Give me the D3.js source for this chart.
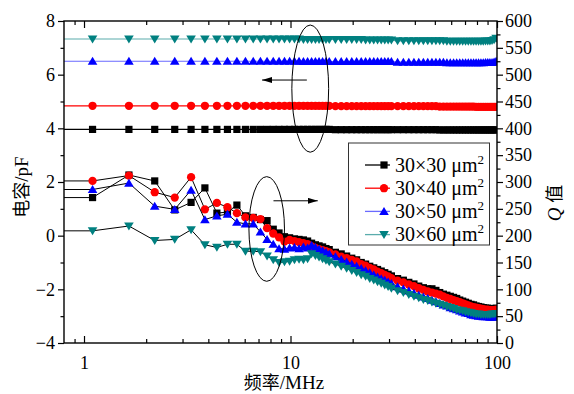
<!DOCTYPE html>
<html><head><meta charset="utf-8">
<script src="https://cdn.jsdelivr.net/npm/d3@7"></script>
<style>
body{margin:0;background:#fff}
svg{display:block}
text{font-family:"Liberation Serif","Times New Roman",serif;fill:#000}
.cjk{font-family:"Noto Sans CJK SC",sans-serif}
</style>
</head><body><svg id="c" width="574" height="394"></svg>
<script>
// ---------- DATA ----------
const freq = [0.55,1.1,1.65,2.2,2.75,3.3,3.85,4.4,4.95,5.5,6.05,6.6,7.15,7.7,8.25,8.8,9.35,9.9,10.45,11,
  11.55,12.1,12.65,13.2,13.75,14.3,14.85,15.4,16.5,17.6,18.7,19.8,20.9,22,23.1,24.2,25.3,26.4,27.5,28.6,29.7,30.8,
  33,35.2,37.4,39.6,41.8,44,46.2,48.4,50.6,52.8,55,57.2,59.4,61.6,63.8,66,68.2,70.4,72.6,74.8,77,79.2,81.4,83.6,85.8,88,90.2,92.4,94.6,96.8,99];
const seriesNames = ["30×30","30×40","30×50","30×60"];
// capacitance (pF), left axis
const capBlack = [3.96,3.96,3.96,3.96,3.96,3.96,3.96,3.96,3.96,3.96,3.96,3.96,3.96,3.96,3.96,3.96,3.96,3.96,3.96,3.96,
  3.96,3.96,3.96,3.96,3.96,3.96,3.96,3.96,3.95,3.95,3.95,3.95,3.95,3.95,3.95,3.95,3.95,3.95,3.95,3.95,3.95,3.95,
  3.95,3.95,3.95,3.95,3.95,3.95,3.95,3.95,3.95,3.94,3.94,3.94,3.94,3.94,3.94,3.94,3.94,3.94,3.94,3.94,3.94,3.94,3.94,3.94,3.94,3.94,3.94,3.94,3.94,3.94,3.94];
const capRed = [4.84,4.84,4.84,4.84,4.84,4.84,4.84,4.84,4.84,4.84,4.84,4.84,4.84,4.84,4.84,4.84,4.84,4.84,4.84,4.84,
  4.84,4.84,4.84,4.84,4.84,4.84,4.84,4.84,4.83,4.83,4.83,4.83,4.83,4.83,4.83,4.83,4.83,4.83,4.83,4.83,4.83,4.83,
  4.83,4.83,4.83,4.83,4.83,4.83,4.83,4.83,4.83,4.81,4.81,4.81,4.81,4.81,4.81,4.81,4.81,4.81,4.81,4.81,4.81,4.80,4.80,4.80,4.80,4.80,4.80,4.80,4.80,4.80,4.80];
const capBlue = [6.50,6.50,6.50,6.50,6.50,6.50,6.50,6.50,6.50,6.50,6.50,6.50,6.50,6.50,6.50,6.50,6.50,6.50,6.50,6.50,
  6.49,6.49,6.49,6.49,6.49,6.49,6.49,6.49,6.49,6.49,6.49,6.49,6.49,6.49,6.49,6.49,6.49,6.49,6.49,6.49,6.49,6.49,
  6.47,6.47,6.47,6.47,6.47,6.47,6.47,6.47,6.47,6.47,6.47,6.45,6.45,6.45,6.45,6.45,6.45,6.45,6.45,6.45,6.45,6.45,6.45,6.45,6.45,6.46,6.46,6.46,6.46,6.48,6.50];
const capTeal = [7.33,7.33,7.33,7.33,7.33,7.33,7.33,7.33,7.33,7.33,7.33,7.33,7.33,7.33,7.33,7.33,7.33,7.33,7.33,7.33,
  7.31,7.31,7.31,7.31,7.31,7.31,7.31,7.31,7.31,7.31,7.31,7.31,7.31,7.31,7.29,7.29,7.29,7.29,7.29,7.29,7.29,7.29,
  7.26,7.26,7.26,7.26,7.26,7.26,7.26,7.26,7.26,7.26,7.26,7.24,7.24,7.24,7.24,7.24,7.24,7.24,7.24,7.24,7.24,7.24,7.24,7.24,7.24,7.25,7.25,7.25,7.27,7.30,7.35];
// Q values, right axis
const qBlack = [271,271,313,302,248,262,289,242,244,257,237,234,230,228,212,205,198,196,194,193,
  192,190,186,183,181,179,176,174,169,166,162,158,155,150,147,143,140,137,134,131,128,125,
  120,117,113,110,106,103,101,101,98,94,91,89,87,85,83,80,78,76,74,72,71,69,68,67,66,65,65,64,64,64,65];
const qRed = [302,302,312,281,271,309,249,261,253,242,234,233,231,214,204,197,189,192,190,188,
  186,184,180,177,175,173,171,169,165,161,158,155,152,147,144,140,137,133,130,127,124,121,
  116,113,109,106,102,99,96,94,92,90,87,84,82,80,78,76,74,72,70,68,67,66,65,64,63,62,62,61,61,61,62];
const qBlue = [286,286,298,255,249,285,230,237,240,225,222,222,207,193,184,176,175,177,178,176,
  179,177,182,178,175,172,169,166,161,156,151,147,143,139,135,131,127,123,120,117,114,111,
  105,101,97,93,89,86,83,80,77,74,71,69,66,64,62,60,58,56,55,53,52,51,50,50,49,49,49,48,48,48,49];
const qTeal = [209,209,218,191,193,211,183,178,184,184,171,171,170,162,155,150,151,152,155,156,
  155,157,166,163,160,157,154,151,147,143,139,135,131,127,124,120,117,114,111,108,105,102,
  97,94,90,87,84,81,79,76,74,72,70,68,66,64,62,61,60,58,57,56,55,54,54,53,53,53,53,53,54,54,55];
const xMajor = [1,10,100];
const xMinor = [0.9,2,3,4,5,6,7,8,9,20,30,40,50,60,70,80,90];
const yLMajor = [-4,-2,0,2,4,6,8];
const yLMinor = [-3,-1,1,3,5,7];
const yRMajor = [0,50,100,150,200,250,300,350,400,450,500,550,600];
const yRMinor = [25,75,125,175,225,275,325,375,425,475,525,575];

// ---------- STYLE ----------
const SERIF = '"Liberation Serif","Times New Roman",serif';
const styles = [
  {fill:"#000000", line:"#000000", shape:"square"},
  {fill:"#ff0000", line:"#ff0000", shape:"circle"},
  {fill:"#0000ff", line:"#6a6aff", shape:"up"},
  {fill:"#008080", line:"#5aacac", shape:"down"}
];
const capData = [capBlack, capRed, capBlue, capTeal];
const qData = [qBlack, qRed, qBlue, qTeal];

const svg = d3.select("#c");
const L=64, R=497, T=21, B=343;
const x = d3.scaleLog().domain([0.8,100]).range([L,R]);
const yL = d3.scaleLinear().domain([-4,8]).range([B,T]);
const yR = d3.scaleLinear().domain([0,600]).range([B,T]);

function shapePath(s){
  if(s==="square") return "M-3.6,-3.6h7.2v7.2h-7.2z";
  if(s==="circle") return d3.symbol(d3.symbolCircle, 54)();
  if(s==="up") return "M0,-4.4L4.8,3.6L-4.8,3.6Z";
  return "M0,4.4L4.8,-3.6L-4.8,-3.6Z";
}

svg.append("defs").append("clipPath").attr("id","clip")
  .append("rect").attr("x",L).attr("y",T).attr("width",R-L).attr("height",B-T);
const plot = svg.append("g").attr("clip-path","url(#clip)");

styles.forEach((st,i)=>{
  const cap = freq.map((f,j)=>[f,capData[i][j]]);
  const q = freq.map((f,j)=>[f,qData[i][j]]);
  const g = plot.append("g");
  g.append("path").datum(cap)
    .attr("d", d3.line().x(d=>x(d[0])).y(d=>yL(d[1])))
    .attr("fill","none").attr("stroke",st.line).attr("stroke-width",1.2);
  g.selectAll(".cm").data(cap).join("path").attr("class","cm")
    .attr("d",shapePath(st.shape)).attr("fill",st.fill)
    .attr("transform",d=>`translate(${x(d[0])},${yL(d[1])})`);
  g.append("path").datum(q)
    .attr("d", d3.line().x(d=>x(d[0])).y(d=>yR(d[1])))
    .attr("fill","none").attr("stroke","#000").attr("stroke-width",1);
  g.selectAll(".qm").data(q).join("path").attr("class","qm")
    .attr("d",shapePath(st.shape)).attr("fill",st.fill)
    .attr("transform",d=>`translate(${x(d[0])},${yR(d[1])})`);
});

// ---------- AXES ----------
const fmtL = d => d<0 ? "\u2212"+Math.abs(d) : String(d);
function axisStyle(g){ g.attr("font-family",SERIF); g.select(".domain").remove();
  g.selectAll("line").attr("stroke","#000").attr("stroke-width",1.2);
  g.selectAll("text").attr("font-size",18).style("font-family",SERIF); }

svg.append("g").attr("transform",`translate(${L},0)`)
  .call(d3.axisLeft(yL).tickValues(yLMajor).tickSize(6).tickPadding(3).tickFormat(fmtL)).call(axisStyle);
svg.append("g").attr("transform",`translate(${L},0)`)
  .call(d3.axisLeft(yL).tickValues(yLMinor).tickSize(3.5).tickFormat("")).call(axisStyle);

svg.append("g").attr("transform",`translate(${R},0)`)
  .call(d3.axisRight(yR).tickValues(yRMajor).tickSize(6).tickPadding(2)).call(axisStyle);
svg.append("g").attr("transform",`translate(${R},0)`)
  .call(d3.axisRight(yR).tickValues(yRMinor).tickSize(3.5).tickFormat("")).call(axisStyle);

svg.append("g").attr("transform",`translate(0,${B})`)
  .call(d3.axisBottom(x).tickValues(xMajor).tickSize(-7).tickPadding(13).tickFormat(d3.format("d"))).call(axisStyle);
svg.append("g").attr("transform",`translate(0,${B})`)
  .call(d3.axisBottom(x).tickValues(xMinor).tickSize(-4).tickFormat("")).call(axisStyle);
svg.append("g").attr("transform",`translate(0,${T})`)
  .call(d3.axisTop(x).tickValues(xMajor).tickSize(-7).tickFormat("")).call(axisStyle);
svg.append("g").attr("transform",`translate(0,${T})`)
  .call(d3.axisTop(x).tickValues(xMinor).tickSize(-4).tickFormat("")).call(axisStyle);

svg.append("rect").attr("x",L).attr("y",T).attr("width",R-L).attr("height",B-T)
  .attr("fill","none").attr("stroke","#000").attr("stroke-width",1.4);

// ---------- ANNOTATIONS ----------
svg.append("defs").html(`<marker id="ah" viewBox="0 0 10 6" refX="10" refY="3" markerWidth="10" markerHeight="6" markerUnits="userSpaceOnUse" orient="auto"><path d="M0,0L10,3L0,6Z" fill="#000"/></marker>`);
function ellipse(f0,f1,v0,v1,sc){
  const cx=(x(f0)+x(f1))/2, cy=(sc(v0)+sc(v1))/2;
  svg.append("ellipse").attr("cx",cx).attr("cy",cy).attr("rx",Math.abs(x(f1)-x(f0))/2).attr("ry",Math.abs(sc(v1)-sc(v0))/2)
    .attr("fill","none").attr("stroke","#000").attr("stroke-width",1);
}
ellipse(10.15,15.3,7.85,3.11,yL);
ellipse(6.29,9.35,310,115,yR);
svg.append("line").attr("x1",x(12.0)).attr("x2",x(7.28)).attr("y1",yL(5.8)).attr("y2",yL(5.8))
  .attr("stroke","#000").attr("stroke-width",1).attr("marker-end","url(#ah)");
svg.append("line").attr("x1",x(8.27)).attr("x2",x(13.55)).attr("y1",yR(265)).attr("y2",yR(265))
  .attr("stroke","#000").attr("stroke-width",1).attr("marker-end","url(#ah)");

// ---------- LEGEND ----------
const lg = svg.append("g");
lg.append("rect").attr("x",348.5).attr("y",143).attr("width",141).attr("height",102)
  .attr("fill","#fff").attr("stroke","#333").attr("stroke-width",1);
seriesNames.forEach((n,i)=>{
  const yy = 165 + i*23.2;
  lg.append("line").attr("x1",365).attr("x2",390).attr("y1",yy).attr("y2",yy)
    .attr("stroke",styles[i].line).attr("stroke-width",1.3);
  lg.append("path").attr("d",shapePath(styles[i].shape)).attr("fill",styles[i].fill)
    .attr("transform",`translate(384,${yy})`);
  const t = lg.append("text").attr("x",395).attr("y",yy+6.5).attr("font-size",20).style("font-family",SERIF);
  t.append("tspan").text(n+" \u03bcm");
  t.append("tspan").attr("font-size",13).attr("dy",-8).text("2");
});

// ---------- AXIS TITLES ----------
const xt = svg.append("text").attr("x",284).attr("y",389).attr("text-anchor","middle").attr("font-size",19).style("font-family",SERIF);
xt.append("tspan").attr("class","cjk").attr("font-size",18).text("频率");
xt.append("tspan").text("/MHz");

const ylt = svg.append("text").attr("transform","translate(28,187) rotate(-90)").attr("text-anchor","middle").attr("font-size",19).style("font-family",SERIF);
ylt.append("tspan").attr("class","cjk").attr("font-size",18).text("电容");
ylt.append("tspan").text("/pF");

const yrt = svg.append("text").attr("transform","translate(561,203) rotate(-90)").attr("text-anchor","middle").attr("font-size",19).style("font-family",SERIF);
yrt.append("tspan").attr("font-style","italic").text("Q");
yrt.append("tspan").text(" ");
yrt.append("tspan").attr("class","cjk").attr("font-size",18).text("值");
</script></body></html>
